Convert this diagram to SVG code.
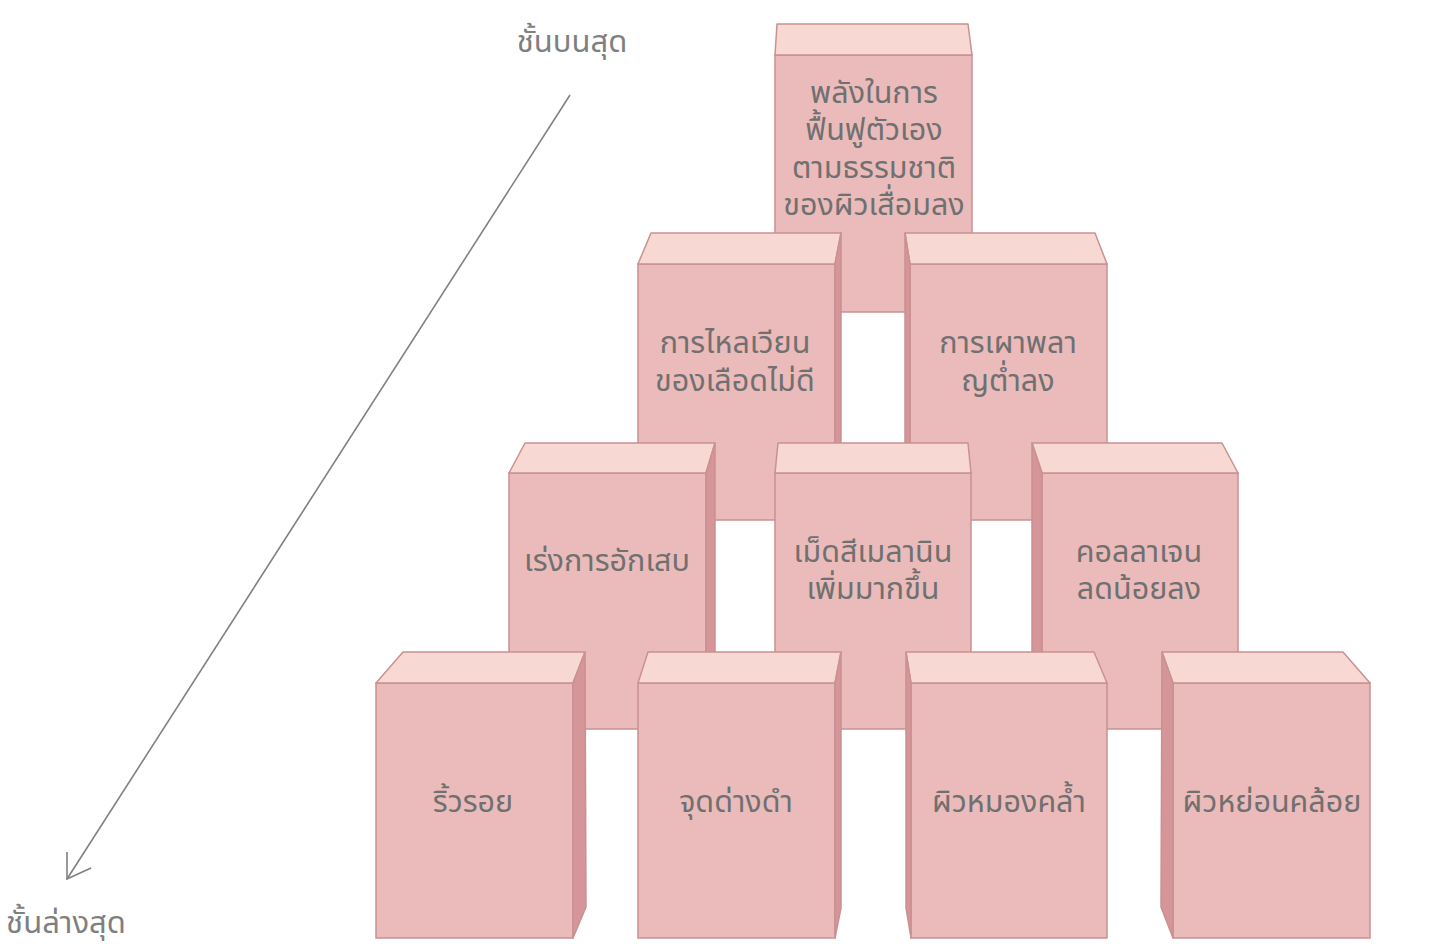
<svg xmlns="http://www.w3.org/2000/svg" width="1446" height="944" viewBox="0 0 1446 944">
<style>
.front{fill:#EBBBBB;stroke:#C99191;stroke-width:1.5}
.top{fill:#F7D8D2;stroke:#C99191;stroke-width:1.5;stroke-linejoin:round}
.side{fill:#D69598;stroke:#C99191;stroke-width:1.5;stroke-linejoin:round}
.t{font-family:"Noto Sans","Noto Sans Thai","DejaVu Sans",sans-serif;font-size:30.5px;fill:#707070;text-anchor:middle}
.lbl{font-family:"Noto Sans","Noto Sans Thai","DejaVu Sans",sans-serif;font-size:31px;fill:#7F7F7F;text-anchor:middle}
.conn{stroke:#808080;stroke-width:1.6;fill:none}
</style>
<rect width="1446" height="944" fill="#FFFFFF"/>

<g id="n1">
<rect class="front" x="775" y="55" width="197" height="257"/>
<polygon class="top" points="777,24 968,24 972,55 775,55"/>
<text class="t" x="874" y="103">พลังในการ</text>
<text class="t" x="874" y="140">ฟื้นฟูตัวเอง</text>
<text class="t" x="874" y="178">ตามธรรมชาติ</text>
<text class="t" x="874" y="215">ของผิวเสื่อมลง</text>
</g>

<g id="n2">
<rect class="front" x="638" y="264" width="197" height="256"/>
<polygon class="top" points="651,233 841,233 835,264 638,264"/>
<polygon class="side" points="835,264 841,233 841,489 835,520"/>
<text class="t" x="735" y="353">การไหลเวียน</text>
<text class="t" x="735" y="391">ของเลือดไม่ดี</text>
</g>

<g id="n3">
<rect class="front" x="910" y="264" width="197" height="256"/>
<polygon class="top" points="905,233 1095,233 1107,264 910,264"/>
<polygon class="side" points="905,233 910,264 910,520 905,489"/>
<text class="t" x="1008" y="353">การเผาพลา</text>
<text class="t" x="1008" y="391">ญต่ำลง</text>
</g>

<g id="n4">
<rect class="front" x="509" y="473" width="197" height="256"/>
<polygon class="top" points="525,443 715,443 706,473 509,473"/>
<polygon class="side" points="706,473 715,443 715,699 706,729"/>
<text class="t" x="607" y="571">เร่งการอักเสบ</text>
</g>

<g id="n5">
<rect class="front" x="775" y="473" width="196" height="256"/>
<polygon class="top" points="778,443 968,443 971,473 775,473"/>
<text class="t" x="873" y="562">เม็ดสีเมลานิน</text>
<text class="t" x="873" y="599">เพิ่มมากขึ้น</text>
</g>

<g id="n6">
<rect class="front" x="1042" y="473" width="196" height="256"/>
<polygon class="top" points="1032,443 1222,443 1238,473 1042,473"/>
<polygon class="side" points="1032,443 1042,473 1042,729 1032,699"/>
<text class="t" x="1139" y="562">คอลลาเจน</text>
<text class="t" x="1139" y="599">ลดน้อยลง</text>
</g>

<g id="n7">
<rect class="front" x="376" y="683" width="197" height="255"/>
<polygon class="top" points="403,652 585,652 573,683 376,683"/>
<polygon class="side" points="573,683 585,652 586,907 573,938"/>
<text class="t" x="473" y="812">ริ้วรอย</text>
</g>

<g id="n8">
<rect class="front" x="638" y="683" width="197" height="255"/>
<polygon class="top" points="648,652 841,652 835,683 638,683"/>
<polygon class="side" points="835,683 841,652 841,908 835,938"/>
<text class="t" x="736" y="812">จุดด่างดำ</text>
</g>

<g id="n9">
<rect class="front" x="911" y="683" width="196" height="255"/>
<polygon class="top" points="906,652 1094,652 1107,683 911,683"/>
<polygon class="side" points="906,652 911,683 911,938 906,908"/>
<text class="t" x="1009" y="812">ผิวหมองคล้ำ</text>
</g>

<g id="n10">
<rect class="front" x="1173" y="683" width="197" height="255"/>
<polygon class="top" points="1162,652 1343,652 1370,683 1173,683"/>
<polygon class="side" points="1162,652 1173,683 1173,938 1161,907"/>
<text class="t" x="1272" y="812">ผิวหย่อนคล้อย</text>
</g>

<g id="labels">
<text class="lbl" x="572" y="52">ชั้นบนสุด</text>
<text class="lbl" x="66" y="933">ชั้นล่างสุด</text>
</g>

<g id="connectors">
<line class="conn" x1="570" y1="95" x2="67" y2="879"/>
<polyline class="conn" points="67,852 67,879 91,868"/>
</g>
</svg>
